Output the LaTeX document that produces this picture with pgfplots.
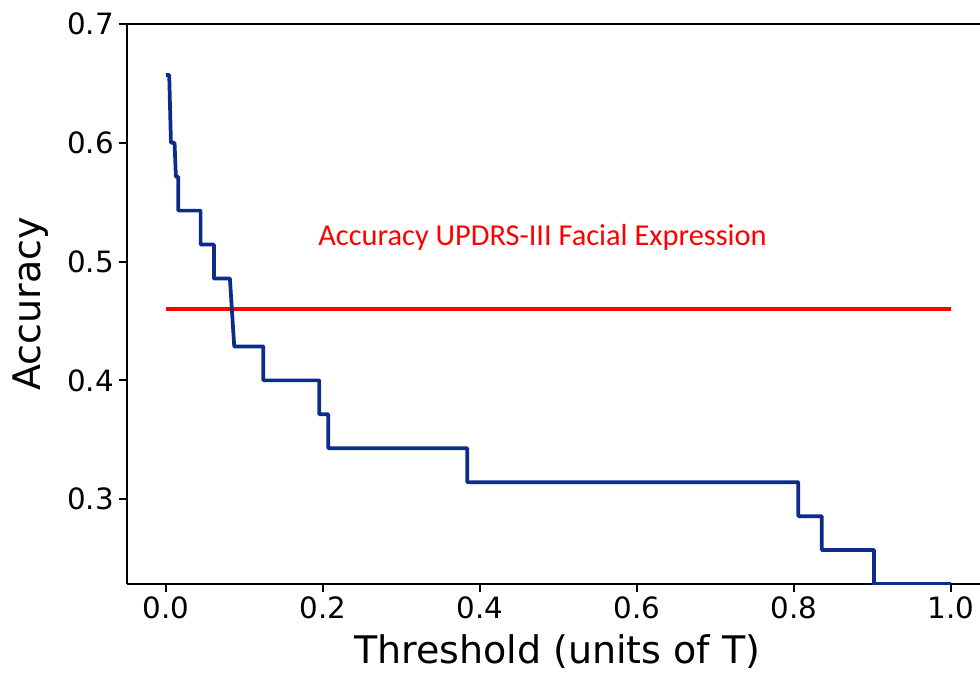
\documentclass[border=0pt]{standalone}
\usepackage{pgfplots}
\pgfplotsset{compat=1.18}
\usepackage{fontspec}
\setmainfont{DejaVu Sans}
\newfontfamily\carlito{Carlito}
\usetikzlibrary{calc}
\definecolor{stepblue}{RGB}{12,44,140}

\begin{document}
\begin{tikzpicture}
\begin{axis}[
  scale only axis,
  width=640pt, height=420pt,
  xmin=-0.05, xmax=1.0369,
  ymin=0.22857, ymax=0.7,
  axis x line*=box, axis y line*=left,
  xtick={0,0.2,0.4,0.6,0.8,1.0},
  ytick={0.3,0.4,0.5,0.6,0.7},
  xtick pos=bottom, ytick pos=left,
  tick align=outside,
  major tick length=6pt,
  every tick/.style={black, line width=1.5pt},
  axis line style={black, line width=1.5pt},
  /pgf/number format/assume math mode=true,
  xticklabel style={/pgf/number format/fixed, /pgf/number format/fixed zerofill, /pgf/number format/precision=1},
  yticklabel style={/pgf/number format/fixed, /pgf/number format/fixed zerofill, /pgf/number format/precision=1},
  tick label style={font=\fontsize{22}{26}\selectfont},
  xlabel={Threshold (units of T)},
  ylabel={Accuracy},
  label style={font=\fontsize{28.5}{34}\selectfont},
  xlabel style={at={(axis description cs:0.5046,-0.142)}, anchor=base},
  ylabel style={at={(axis description cs:-0.1004,0.5)}, anchor=base},
]
\addplot[red, line width=2.6pt] coordinates {(0,0.46) (1,0.46)};
\addplot[stepblue, line width=2.8pt, line join=round] coordinates {
(0.000,0.6571) (0.0042,0.6571) (0.0064,0.6000) (0.0110,0.6000)
(0.0127,0.5714) (0.0157,0.5714) (0.0157,0.5429) (0.0442,0.5429)
(0.0442,0.5143) (0.0611,0.5143) (0.0611,0.4857) (0.0815,0.4857)
(0.0870,0.4286) (0.1240,0.4286) (0.1240,0.4000) (0.1953,0.4000)
(0.1953,0.3714) (0.2068,0.3714) (0.2068,0.3429) (0.3838,0.3429)
(0.3838,0.3143) (0.8055,0.3143) (0.8055,0.2857) (0.8353,0.2857)
(0.8353,0.2571) (0.9019,0.2571) (0.9019,0.22857) (1.0,0.22857)
};
\node[text=red, font=\carlito\fontsize{22.8}{27}\selectfont, anchor=base] at (axis cs:0.4796,0.5138) {Accuracy UPDRS-III Facial Expression};
\coordinate (sw) at (rel axis cs:0,0);
\end{axis}
\pgfresetboundingbox
\path ($(sw)+(-95pt,-68.25pt)$) rectangle ($(sw)+(640pt,438pt)$);
\end{tikzpicture}
\end{document}
